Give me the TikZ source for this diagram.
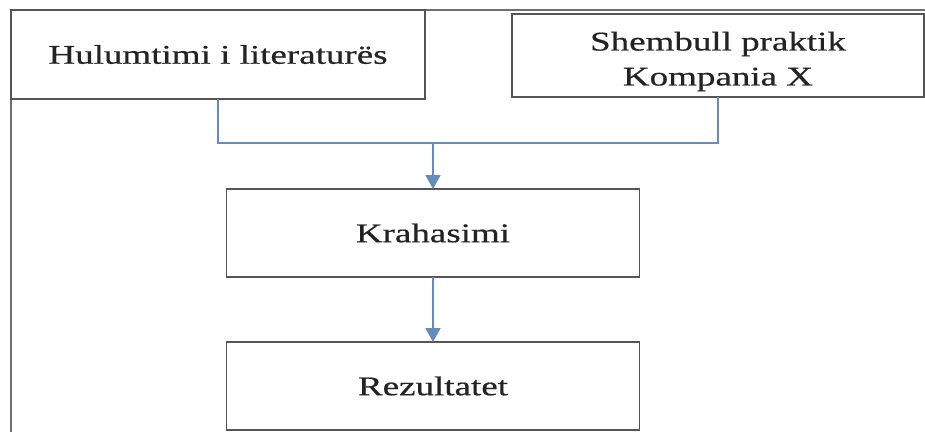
\documentclass[tikz,border=0pt]{standalone}
\usepackage{fontspec}
\setmainfont{Liberation Serif}[FakeStretch=1.37,FakeBold=0.6]
\usepackage{tikz}
\usetikzlibrary{positioning,calc,arrows.meta}

\definecolor{kuti}{RGB}{85,85,85}
\definecolor{tekst}{RGB}{35,35,35}
\definecolor{lidhje}{RGB}{100,140,190}
\definecolor{korniza}{RGB}{110,110,110}

\begin{document}
\begin{tikzpicture}[x=1pt,y=-1pt,
		shkrim/.style={text=tekst,align=center,font=\fontsize{27}{35}\selectfont},
		kutia/.style={draw=kuti,line width=1.6pt,inner sep=0pt,outer sep=0pt,shkrim},
		lidh/.style={draw=lidhje,line width=1.8pt},
		shigjete/.style={lidh,-{Triangle[length=14pt,width=15pt]}}]
	\useasboundingbox (0,0) rectangle (925,432);
	
	% korniza
	\draw[korniza,line width=1.5pt] (11,432) -- (11,10) -- (925,10);
	
	% kutitë lart
	\node[kutia,minimum width=414pt,minimum height=89pt] (lit) at (218,54.5) {Hulumtimi i literaturës};
	\node[kutia,minimum width=412pt,minimum height=83pt,
		label={[shkrim,yshift=-6pt]center:Shembull praktik\\Kompania X}] (rast) at (718,55.5) {};
	
	% kutitë poshtë
	\node[kutia,minimum width=413pt,minimum height=88pt] (krah) at (433,233) {Krahasimi};
	\node[kutia,minimum width=413pt,minimum height=88pt] (rez) at (433,386) {Rezultatet};
	
	% lidhjet
	\coordinate (bash) at (433,143);
	\draw[lidh] (lit.south) |- (bash) -| (rast.south);
	\draw[shigjete] (bash) -- (krah.north);
	\draw[shigjete] (krah.south) -- (rez.north);
\end{tikzpicture}
\end{document}
